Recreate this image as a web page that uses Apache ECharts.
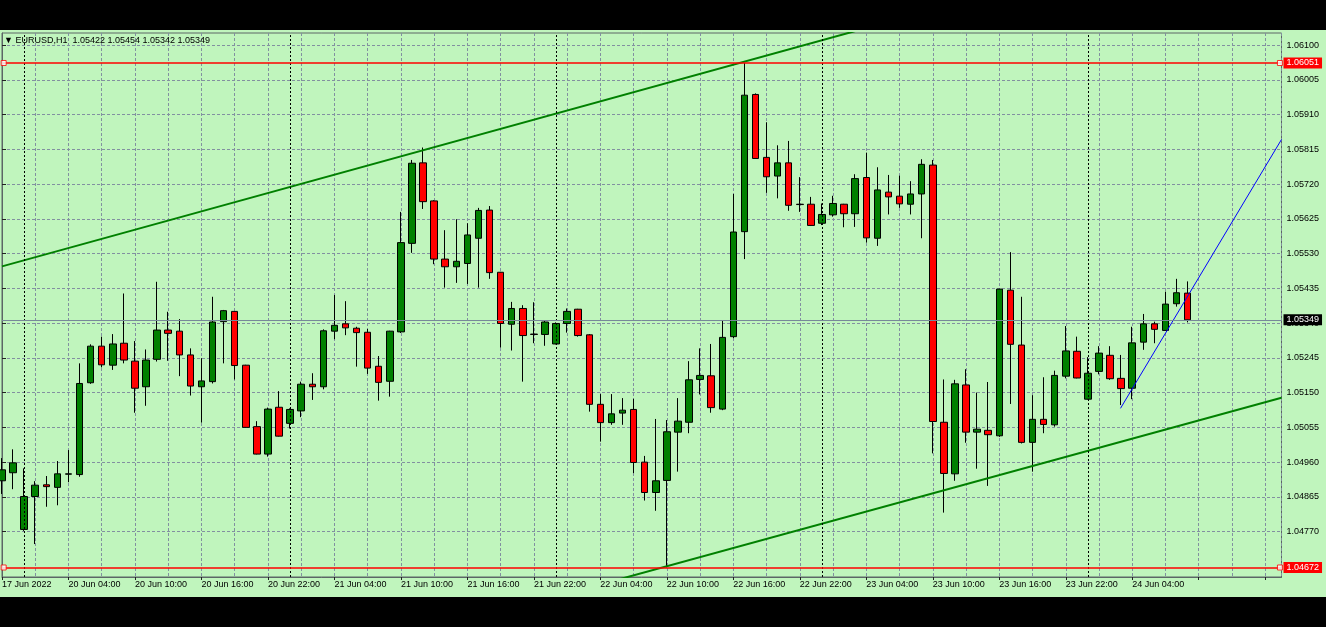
<!DOCTYPE html>
<html><head><meta charset="utf-8">
<script src="https://cdn.jsdelivr.net/npm/echarts@6/dist/echarts.min.js"></script>
<style>
html,body{margin:0;padding:0;background:#000;width:1326px;height:627px;overflow:hidden}
#band{position:absolute;left:0;top:30px;width:1326px;height:567px;background:#c0f5bd}
#chart{position:absolute;left:0;top:0;width:1326px;height:627px}
</style></head><body>
<div id="band"></div><div id="chart"></div>
<script>
// ---- data (H1 bars from 17 Jun 2022 22:00 to 24 Jun 2022 09:00) ----
const symbolName = 'EURUSD';
const timeframe = 'H1';
const opens = [1.04909,1.04931,1.04776,1.04866,1.04898,1.04891,1.04927,1.04926,1.05177,1.05277,
1.05225,1.05285,1.05236,1.05166,1.05241,1.05321,1.05318,1.05253,1.05166,1.05180,
1.05344,1.05372,1.05225,1.05057,1.04982,1.05110,1.05066,1.05100,1.05173,1.05166,
1.05318,1.05338,1.05326,1.05315,1.05222,1.05181,1.05316,1.05558,1.05778,1.05674,
1.05515,1.05494,1.05503,1.05572,1.05649,1.05479,1.05337,1.05380,1.05310,1.05309,
1.05283,1.05339,1.05378,1.05308,1.05118,1.05068,1.05094,1.05104,1.04960,1.04877,
1.04910,1.05042,1.05069,1.05186,1.05196,1.05105,1.05303,1.05590,1.05965,1.05793,
1.05742,1.05778,1.05665,1.05665,1.05613,1.05636,1.05665,1.05639,1.05738,1.05572,
1.05698,1.05687,1.05665,1.05693,1.05772,1.05069,1.04928,1.05171,1.05042,1.05047,
1.05032,1.05430,1.05280,1.05014,1.05077,1.05062,1.05195,1.05263,1.05132,1.05208,
1.05252,1.05189,1.05162,1.05288,1.05338,1.05320,1.05393,1.05422];
const highs = [1.04971,1.04995,1.04943,1.04908,1.04922,1.04963,1.04993,1.05230,1.05282,1.05303,
1.05310,1.05421,1.05291,1.05268,1.05453,1.05371,1.05351,1.05271,1.05244,1.05412,
1.05376,1.05373,1.05226,1.05072,1.05109,1.05154,1.05107,1.05180,1.05203,1.05323,
1.05417,1.05400,1.05330,1.05324,1.05250,1.05319,1.05644,1.05786,1.05820,1.05676,
1.05594,1.05624,1.05613,1.05655,1.05660,1.05480,1.05398,1.05389,1.05397,1.05346,
1.05342,1.05380,1.05379,1.05310,1.05146,1.05146,1.05135,1.05133,1.04977,1.05078,
1.05075,1.05135,1.05236,1.05271,1.05283,1.05347,1.05693,1.06051,1.05968,1.05889,
1.05826,1.05838,1.05739,1.05685,1.05667,1.05688,1.05666,1.05747,1.05806,1.05766,
1.05745,1.05743,1.05728,1.05788,1.05786,1.05186,1.05185,1.05214,1.05150,1.05179,
1.05434,1.05534,1.05412,1.05143,1.05192,1.05210,1.05332,1.05303,1.05247,1.05277,
1.05277,1.05253,1.05330,1.05365,1.05344,1.05426,1.05461,1.05454];
const lows = [1.04873,1.04886,1.04772,1.04736,1.04838,1.04842,1.04905,1.04920,1.05174,1.05219,
1.05212,1.05230,1.05095,1.05114,1.05235,1.05237,1.05195,1.05142,1.05068,1.05175,
1.05230,1.05186,1.05054,1.04981,1.04975,1.05030,1.05052,1.05083,1.05130,1.05159,
1.05296,1.05307,1.05221,1.05201,1.05128,1.05139,1.05313,1.05532,1.05652,1.05501,
1.05437,1.05450,1.05447,1.05437,1.05461,1.05273,1.05265,1.05180,1.05285,1.05278,
1.05282,1.05314,1.05303,1.05098,1.05016,1.05062,1.05062,1.04930,1.04855,1.04827,
1.04672,1.04934,1.05039,1.05145,1.05095,1.05102,1.05299,1.05515,1.05789,1.05696,
1.05681,1.05647,1.05644,1.05606,1.05608,1.05631,1.05602,1.05603,1.05560,1.05551,
1.05637,1.05655,1.05637,1.05572,1.04984,1.04822,1.04909,1.05013,1.04942,1.04895,
1.05029,1.05119,1.05011,1.04934,1.05039,1.05057,1.05189,1.05189,1.05131,1.05200,
1.05185,1.05116,1.05132,1.05267,1.05285,1.05319,1.05385,1.05342];
const closes = [1.04939,1.04958,1.04866,1.04897,1.04893,1.04928,1.04928,1.05175,1.05277,1.05226,
1.05283,1.05239,1.05162,1.05239,1.05321,1.05312,1.05253,1.05168,1.05182,1.05343,
1.05374,1.05224,1.05055,1.04982,1.05105,1.05031,1.05104,1.05173,1.05166,1.05319,
1.05334,1.05327,1.05314,1.05217,1.05178,1.05318,1.05560,1.05777,1.05672,1.05515,
1.05494,1.05509,1.05581,1.05648,1.05478,1.05339,1.05380,1.05306,1.05309,1.05343,
1.05339,1.05372,1.05306,1.05118,1.05068,1.05092,1.05102,1.04959,1.04877,1.04909,
1.05043,1.05072,1.05185,1.05197,1.05109,1.05301,1.05589,1.05963,1.05790,1.05740,
1.05778,1.05662,1.05664,1.05607,1.05637,1.05667,1.05639,1.05735,1.05573,1.05704,
1.05685,1.05666,1.05693,1.05774,1.05071,1.04929,1.05174,1.05042,1.05050,1.05035,
1.05433,1.05282,1.05014,1.05077,1.05063,1.05197,1.05264,1.05190,1.05203,1.05258,
1.05188,1.05161,1.05286,1.05338,1.05323,1.05392,1.05423,1.05349];
const xTickLabels = ['17 Jun 2022','20 Jun 04:00','20 Jun 10:00','20 Jun 16:00','20 Jun 22:00',
'21 Jun 04:00','21 Jun 10:00','21 Jun 16:00','21 Jun 22:00','22 Jun 04:00','22 Jun 10:00',
'22 Jun 16:00','22 Jun 22:00','23 Jun 04:00','23 Jun 10:00','23 Jun 16:00','23 Jun 22:00','24 Jun 04:00'];
const yTicks = [1.04770,1.04865,1.04960,1.05055,1.05150,1.05245,1.05340,1.05435,1.05530,
1.05625,1.05720,1.05815,1.05910,1.06005,1.06100];
const daySeparators = [2, 26, 50, 74, 98];       // bar index of each day's 00:00 bar
const redLevels = [1.06051, 1.04672];
const bidLevel = 1.05349;
const upperChannel = [[0, 1.05495], [82, 1.06180]];
const lowerChannel = [[52, 1.04609], [115.47, 1.05136]];
const blueTrend = [[100.94, 1.05107], [115.47, 1.05842]];
const levelMarkers = [[0.15, 1.06051], [115.33, 1.06051], [0.15, 1.04672], [115.33, 1.04672]];
const xMax = 115.47, yMin = 1.04646, yMax = 1.06133;

// ---- chart ----
const FONT = 'Liberation Sans';
const GRIDC = '#8290a0';
const AXC = '#5c6666';
const candleData = opens.map((o, k) => [k, o, closes[k], lows[k], highs[k]]);
const last = candleData.length - 1;
const f5 = v => Number(v).toFixed(5);
const headerText = '\u25BC ' + symbolName + ',' + timeframe + '  ' +
  [opens[last], highs[last], lows[last], closes[last]].map(f5).join(' ');

const priceLabel = (bg) => ({
  show: true, position: 'end', distance: 2, formatter: p => f5(p.value),
  backgroundColor: bg, color: '#fff', fontSize: 9, fontFamily: FONT,
  padding: [1, 3, 0, 3], lineHeight: 10
});

const chart = echarts.init(document.getElementById('chart'), null, {renderer: 'canvas'});
chart.setOption({
  animation: false,
  backgroundColor: 'transparent',
  textStyle: {fontFamily: FONT},
  title: {
    text: headerText, left: 4, top: 36, padding: 0,
    textStyle: {fontSize: 9, fontWeight: 'normal', color: '#000', fontFamily: FONT}
  },
  grid: {
    left: 2, right: 44.5, top: 33, bottom: 50, show: true,
    borderColor: AXC, borderWidth: 1, outerBoundsMode: 'none', containLabel: false
  },
  xAxis: [
    {
      type: 'value', min: 0, max: xMax, interval: 6, position: 'bottom',
      axisLine: {show: true, onZero: false, lineStyle: {color: AXC}},
      axisTick: {show: true, length: 3, lineStyle: {color: '#222'}},
      axisLabel: {
        show: true, align: 'left', margin: 3, fontSize: 9, color: '#000', fontFamily: FONT,
        showMinLabel: true, showMaxLabel: false, hideOverlap: false,
        formatter: v => (Number.isInteger(v) && v % 6 === 0 && xTickLabels[v / 6]) ? xTickLabels[v / 6] : ''
      },
      splitLine: {show: false}
    },
    {
      type: 'value', min: 0, max: xMax, interval: 3, position: 'bottom',
      axisLine: {show: false}, axisTick: {show: false}, axisLabel: {show: false},
      splitLine: {show: true, lineStyle: {color: GRIDC, type: [3, 2], width: 1}}
    }
  ],
  yAxis: {
    type: 'value', position: 'right', min: yMin, max: yMax, scale: true,
    axisLine: {show: true, lineStyle: {color: AXC}},
    axisTick: {show: true, length: 4, customValues: yTicks, lineStyle: {color: '#222'}},
    axisLabel: {customValues: yTicks, formatter: v => f5(v), fontSize: 9, color: '#000', margin: 5, fontFamily: FONT},
    splitLine: {show: true, lineStyle: {color: GRIDC, type: [3, 2], width: 1}}
  },
  series: [
    {
      type: 'candlestick', data: candleData, encode: {x: 0, y: [1, 2, 3, 4]}, xAxisIndex: 0,
      barWidth: 7, silent: true, emphasis: {disabled: true},
      itemStyle: {color: '#008000', color0: '#ff0000', borderColor: '#000', borderColor0: '#000', borderColorDoji: '#000', borderWidth: 1},
      markLine: {
        silent: true, symbol: ['none', 'none'], animation: false, precision: 5,
        emphasis: {disabled: true},
        data: [
          ...daySeparators.map(v => ({xAxis: v, lineStyle: {color: '#000', type: [2, 2], width: 1}, label: {show: false}})),
          {yAxis: bidLevel, lineStyle: {color: '#778899', type: 'solid', width: 1}, label: priceLabel('#000')},
          ...redLevels.map(v => ({yAxis: v, lineStyle: {color: '#ff0000', type: 'solid', width: 1.5}, label: priceLabel('#ff0000')}))
        ]
      }
    },
    {type: 'line', data: upperChannel, showSymbol: false, silent: true, clip: true, lineStyle: {color: '#008000', width: 2}, z: 4},
    {type: 'line', data: lowerChannel, showSymbol: false, silent: true, clip: true, lineStyle: {color: '#008000', width: 2}, z: 4},
    {type: 'line', data: blueTrend, showSymbol: false, silent: true, clip: true, lineStyle: {color: '#0000ff', width: 1}, z: 4},
    {type: 'scatter', data: levelMarkers, symbol: 'rect', symbolSize: 5, silent: true,
     itemStyle: {color: '#fff', borderColor: '#ff0000', borderWidth: 1}, z: 6}
  ]
});
</script>
</body></html>
